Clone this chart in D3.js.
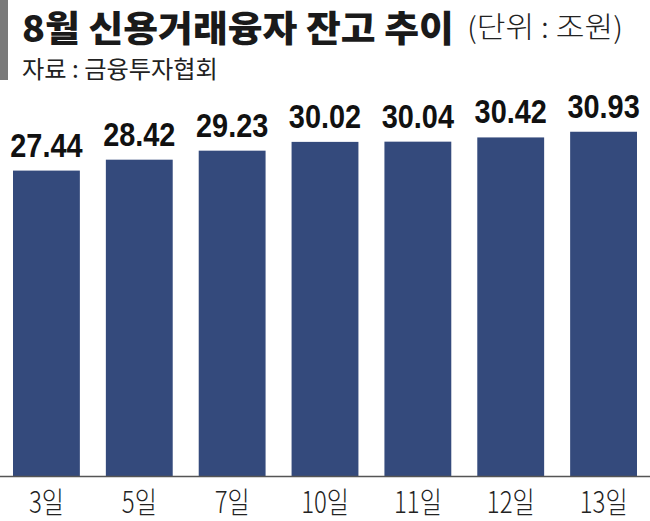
<!DOCTYPE html>
<html>
<head>
<meta charset="utf-8">
<script src="https://cdn.jsdelivr.net/npm/d3@7"></script>
<style>
  html, body { margin: 0; padding: 0; background: #fff; }
  svg { display: block; }
</style>
</head>
<body>
<div id="chart"></div>
<script>
var days = ["3일", "5일", "7일", "10일", "11일", "12일", "13일"];
var balances = [27.44, 28.42, 29.23, 30.02, 30.04, 30.42, 30.93];
var titleText = "8월 신용거래융자 잔고 추이";
var unitText = "(단위 : 조원)";
var sourceText = "자료 : 금융투자협회";

var w = 650, h = 521;
var navy = "#344a7c";
var baseY = 476;

var svg = d3.select("#chart").append("svg")
	.attr("width", w)
	.attr("height", h);

// squeeze a text horizontally so it spans `width` px, anchored at (x, y)
function fitText(sel, x, y, width) {
	sel.attr("x", 0).attr("y", 0);
	var natural = sel.node().getComputedTextLength();
	var sx = width / natural;
	sel.attr("transform", "translate(" + x + "," + y + ") scale(" + sx + ",1)");
}

// header block
svg.append("rect")
	.attr("x", 0).attr("y", 0)
	.attr("width", 8).attr("height", 80)
	.attr("fill", "#7a7a7a");

var title = svg.append("text")
	.style("font-family", "'Noto Sans CJK KR', 'Noto Sans', sans-serif")
	.style("font-size", "36px")
	.style("font-weight", "900")
	.attr("fill", "#1a1a1a")
	.text(titleText);
fitText(title, 22, 42, 432);

var unit = svg.append("text")
	.style("font-family", "'Noto Sans CJK KR', sans-serif")
	.style("font-size", "29px")
	.style("font-weight", "300")
	.attr("fill", "#222")
	.text(unitText);
fitText(unit, 467, 38, 156);

var source = svg.append("text")
	.style("font-family", "'Noto Sans CJK KR', sans-serif")
	.style("font-size", "24px")
	.style("font-weight", "400")
	.attr("fill", "#222")
	.text(sourceText);
fitText(source, 22, 78, 196);

// scales
var x = d3.scaleBand()
	.domain(days)
	.range([13, 637])
	.paddingInner(0.28)
	.paddingOuter(0);

var y = d3.scaleLinear()
	.domain([0, 35])
	.range([baseY, baseY - 35 * 11.13]);

var g = svg.append("g");

g.selectAll("rect.bar")
	.data(balances)
	.enter()
	.append("rect")
	.attr("class", "bar")
	.attr("x", (d, i) => x(days[i]))
	.attr("y", d => y(d))
	.attr("width", x.bandwidth())
	.attr("height", d => baseY - y(d))
	.attr("fill", navy);

g.selectAll("text.val")
	.data(balances)
	.enter()
	.append("text")
	.attr("class", "val")
	.attr("text-anchor", "middle")
	.attr("transform", (d, i) => "translate(" + (x(days[i]) + x.bandwidth() / 2) + "," + (y(d) - 14) + ") scale(0.85,1)")
	.style("font-family", "'Liberation Sans', Arial, sans-serif")
	.style("font-size", "34px")
	.style("font-weight", "bold")
	.attr("fill", "#111")
	.text(d => d.toFixed(2));

// baseline
svg.append("line")
	.attr("x1", 0).attr("x2", w)
	.attr("y1", baseY + 0.5).attr("y2", baseY + 0.5)
	.attr("stroke", "#555")
	.attr("stroke-width", 1.5);

// category axis, drawn with d3.axisBottom then restyled
var axis = svg.append("g")
	.attr("transform", "translate(0," + baseY + ")")
	.call(d3.axisBottom(x).tickSize(0).tickPadding(0));

axis.select(".domain").remove();
axis.selectAll(".tick text")
	.attr("y", 0)
	.attr("dy", "0")
	.attr("transform", "translate(0,37) scale(0.8,1)")
	.style("font-family", "'Noto Sans CJK KR', sans-serif")
	.style("font-size", "30px")
	.style("font-weight", "300")
	.attr("fill", "#222");
</script>
</body>
</html>
